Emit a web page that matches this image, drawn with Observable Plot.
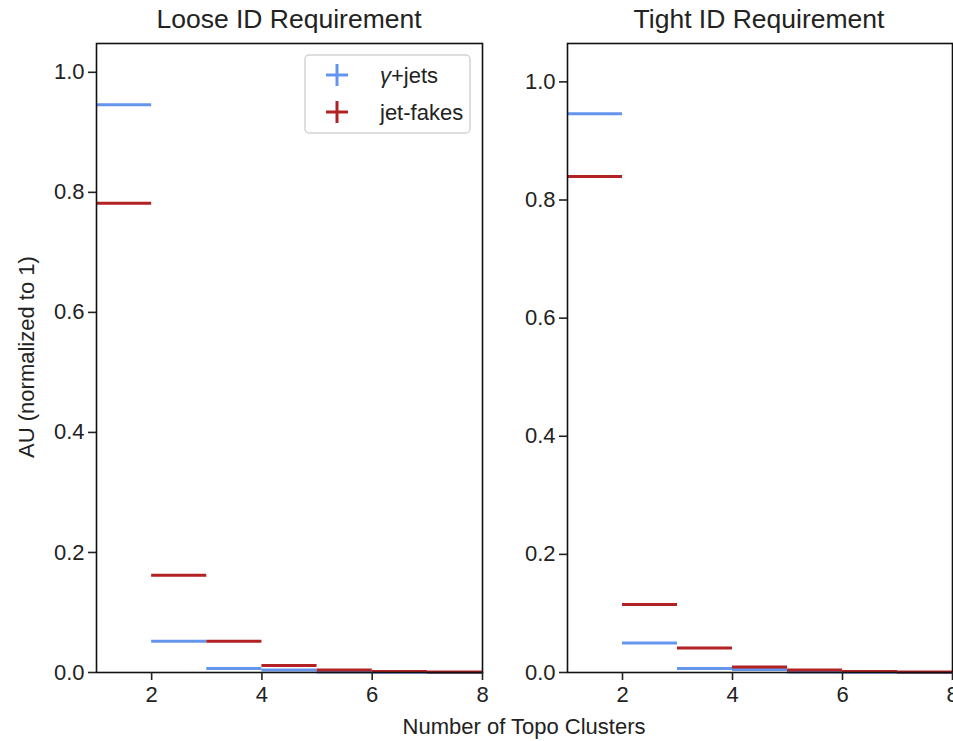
<!DOCTYPE html>
<html>
<head>
<meta charset="utf-8">
<script src="https://cdn.jsdelivr.net/npm/d3@7"></script>
<script src="https://cdn.jsdelivr.net/npm/@observablehq/plot@0.6"></script>
<style>
  body { margin: 0; background: #fff; }
  #wrap { position: relative; width: 953px; height: 741px; background: #fff; font-family: "Liberation Sans", Arial, sans-serif; color: #222; overflow: hidden; }
  .abs { position: absolute; white-space: nowrap; }
  .title { font-size: 26.5px; top: 4px; transform: translateX(-50%); }
  svg.plot { position: absolute; top: 0; }
</style>
</head>
<body>
<div id="wrap"></div>
<script>
// ---- data ----
const binLow  = [1, 2, 3, 4, 5, 6, 7];
const binHigh = [2, 3, 4, 5, 6, 7, 8];
const series = ["γ+jets", "jet-fakes"];
const colors = ["#6495ed", "#b22222"];
const looseGamma = [0.946, 0.052, 0.0067, 0.0043, 0.0008, 0.0003, 0.0002];
const looseFakes = [0.782, 0.162, 0.052, 0.0117, 0.0043, 0.0015, 0.0010];
const tightGamma = [0.946, 0.050, 0.0068, 0.0050, 0.0010, 0.0003, 0.0002];
const tightFakes = [0.840, 0.115, 0.0416, 0.0095, 0.0044, 0.0015, 0.0010];
const panelTitles = ["Loose ID Requirement", "Tight ID Requirement"];
const xTicks = [2, 4, 6, 8];
const yTicks = [0, 0.2, 0.4, 0.6, 0.8, 1.0];
const xLabel = "Number of Topo Clusters";
const yLabel = "AU (normalized to 1)";

function rows(g, f) {
  const out = [];
  binLow.forEach((lo, i) => out.push({lo, hi: binHigh[i], v: g[i], s: series[0]}));
  binLow.forEach((lo, i) => out.push({lo, hi: binHigh[i], v: f[i], s: series[1]}));
  return out;
}

function panel(data, opts) {
  return Plot.plot({
    width: opts.width, height: 741,
    marginLeft: opts.ml, marginRight: opts.mr, marginTop: 43, marginBottom: 69,
    style: {fontFamily: '"Liberation Sans", Arial, sans-serif', fontSize: "22px", color: "#222", background: "transparent", overflow: "visible"},
    x: {domain: [1, 8]},
    y: {domain: [0, opts.ymax]},
    color: {domain: series, range: colors},
    marks: [
      Plot.ruleY(data, {x1: "lo", x2: "hi", y: "v", stroke: "s", strokeWidth: 3}),
      Plot.frame({stroke: "#111", strokeWidth: 1.6}),
      Plot.axisX({ticks: xTicks, tickFormat: d => String(d), tickSize: 8, tickPadding: 6, fontSize: 22, label: null, strokeWidth: 1.6}),
      Plot.axisY({ticks: yTicks, tickFormat: d => d.toFixed(1), tickSize: 8, tickPadding: 4, fontSize: 22, label: null, strokeWidth: 1.6})
    ]
  });
}

const wrap = document.getElementById("wrap");
const left = panel(rows(looseGamma, looseFakes), {width: 490, ml: 96, mr: 8, ymax: 1.048});
left.style.left = "0px";
left.classList.add("plot");
wrap.appendChild(left);
const right = panel(rows(tightGamma, tightFakes), {width: 463, ml: 77, mr: 1, ymax: 1.065});
right.style.left = "490px";
right.classList.add("plot");
wrap.appendChild(right);

// titles
[[289, panelTitles[0]], [759, panelTitles[1]]].forEach(([cx, t]) => {
  const d = document.createElement("div");
  d.className = "abs title";
  d.style.left = cx + "px";
  d.textContent = t;
  wrap.appendChild(d);
});
// x label
const xl = document.createElement("div");
xl.className = "abs";
xl.style.cssText = "left:524px;top:714px;font-size:22px;transform:translateX(-50%);";
xl.textContent = xLabel;
wrap.appendChild(xl);
// y label
const yl = document.createElement("div");
yl.className = "abs";
yl.style.cssText = "left:27px;top:357px;font-size:22px;transform:translate(-50%,-50%) rotate(-90deg);";
yl.textContent = yLabel;
wrap.appendChild(yl);

// legend
const ns = "http://www.w3.org/2000/svg";
const lg = document.createElementNS(ns, "svg");
lg.setAttribute("width", 170); lg.setAttribute("height", 82);
lg.style.cssText = "position:absolute;left:303px;top:53px;overflow:visible;";
const box = document.createElementNS(ns, "rect");
box.setAttribute("x", 2); box.setAttribute("y", 2); box.setAttribute("width", 165); box.setAttribute("height", 78);
box.setAttribute("rx", 4); box.setAttribute("fill", "rgba(255,255,255,0.85)"); box.setAttribute("stroke", "#d4d4d4"); box.setAttribute("stroke-width", 1.5);
lg.appendChild(box);
series.forEach((s, i) => {
  const cy = 22 + i * 37, cx = 34;
  const p = document.createElementNS(ns, "path");
  p.setAttribute("d", `M${cx-11},${cy}H${cx+11}M${cx},${cy-11}V${cy+11}`);
  p.setAttribute("stroke", colors[i]); p.setAttribute("stroke-width", 3);
  lg.appendChild(p);
  const t = document.createElementNS(ns, "text");
  t.setAttribute("x", 77); t.setAttribute("y", cy); t.setAttribute("dy", "0.35em");
  t.setAttribute("font-size", 22); t.setAttribute("fill", "#222");
  t.setAttribute("font-family", '"Liberation Sans", Arial, sans-serif');
  if (s.startsWith("γ")) {
    const ts = document.createElementNS(ns, "tspan");
    ts.setAttribute("font-style", "italic"); ts.textContent = "γ";
    t.appendChild(ts);
    t.appendChild(document.createTextNode(s.slice(1)));
  } else t.textContent = s;
  lg.appendChild(t);
});
wrap.appendChild(lg);
</script>
</body>
</html>
